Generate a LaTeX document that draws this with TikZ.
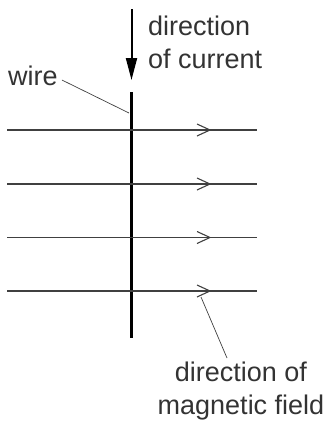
\documentclass[tikz,border=0pt]{standalone}
\usepackage{fontspec}
\setmainfont{Liberation Sans}
\usetikzlibrary{arrows.meta,calc}

\begin{document}
\begin{tikzpicture}
	[x=1pt,y=-1pt,
	 label/.style={inner sep=0,text=black!80,font=\fontsize{27}{33}\selectfont},
	 fieldline/.style={black!75,line width=1.1pt},
	 leader/.style={black!75,line width=0.7pt},
	 wirestyle/.style={black,line width=3pt}]
	\useasboundingbox (0,0) rectangle (330,424);

	% current arrow and wire
	\coordinate (CT) at (131.5,9);
	\coordinate (CB) at (131.5,80);
	\draw[black,line width=2pt,-{Triangle[length=22pt,width=11pt]}] (CT) -- (CB);
	\coordinate (WT) at (131.5,92);
	\coordinate (WB) at (131.5,338);
	\draw[wirestyle] (WT) -- (WB);

	% labels
	\node[label,anchor=north west,align=left] (current) at (148,16) {direction\\of current};
	\node[label,anchor=base west] (wirelabel) at (8,85) {wire};
	\node[label,anchor=north,align=center] (fieldlabel) at (241,362) {direction of\\magnetic field};

	% field lines
	\coordinate (L1) at (7,130);   \coordinate (R1) at (257,130);
	\coordinate (L2) at (7,184);   \coordinate (R2) at (257,184);
	\coordinate (L3) at (7,237.5); \coordinate (R3) at (257,237.5);
	\coordinate (L4) at (7,291);   \coordinate (R4) at (257,291);
	\draw[fieldline] (L1) -- (R1);
	\draw[fieldline] (L2) -- (R2);
	\draw[fieldline] (L3) -- (R3);
	\draw[fieldline] (L4) -- (R4);

	% arrow marks on the field lines
	\coordinate (M1) at (210,130);
	\coordinate (M2) at (210,184);
	\coordinate (M3) at (210,237.5);
	\coordinate (M4) at (210,291);
	\draw[fieldline] ($(M1)+(-13,-6)$) -- (M1) -- ($(M1)+(-13,6)$);
	\draw[fieldline] ($(M2)+(-13,-6)$) -- (M2) -- ($(M2)+(-13,6)$);
	\draw[fieldline] ($(M3)+(-13,-6)$) -- (M3) -- ($(M3)+(-13,6)$);
	\draw[fieldline] ($(M4)+(-13,-6)$) -- (M4) -- ($(M4)+(-13,6)$);

	% leaders
	\coordinate (WP) at (129,113);
	\draw[leader] ($(wirelabel.base east)+(4,-5)$) -- (WP);
	\coordinate (FP) at (201,297);
	\draw[leader] ($(fieldlabel.north)+(-14,-4)$) -- (FP);
\end{tikzpicture}
\end{document}
